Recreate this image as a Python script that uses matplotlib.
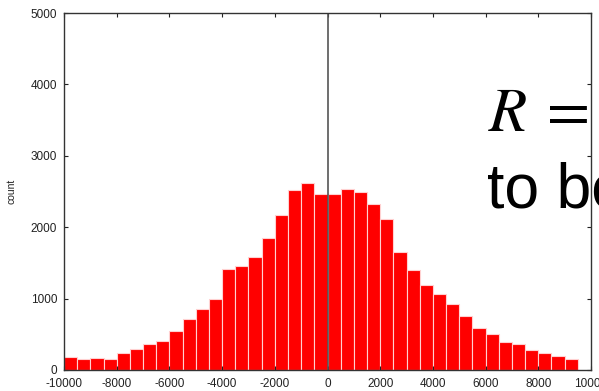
import numpy as np
import matplotlib
matplotlib.use("Agg")
import matplotlib.pyplot as plt

# =====================================================
# data: histogram counts, bin width 500, from -10000 to 9500
# =====================================================
bin_left = np.arange(-10000, 9500, 500)
counts = [178, 158, 168, 154, 238, 290, 360, 410, 550, 710,
          850, 990, 1414, 1461, 1578, 1844, 2166, 2525, 2623, 2460,
          2465, 2531, 2497, 2325, 2115, 1653, 1400, 1195, 1064, 920,
          756, 592, 504, 397, 360, 285, 238, 192, 158]
xticks = list(range(-10000, 10001, 2000))
yticks = list(range(0, 5001, 1000))

plt.rcParams["font.family"] = ["Liberation Sans", "DejaVu Sans"]
plt.rcParams["axes.unicode_minus"] = False
plt.rcParams["mathtext.fontset"] = "stix"

W, H = 599, 391
fig = plt.figure(figsize=(W / 100, H / 100), dpi=100)
ax = fig.add_axes([64 / W, 1 - 370 / H, (591 - 64) / W, (370 - 13) / H])

ax.bar(bin_left, counts, width=500, align="edge", color="#ff0000",
       edgecolor=(1, 0.82, 0.82), linewidth=0.8)
ax.axvline(0, color="#555555", lw=1.2)

ax.set_xlim(-10000, 10000)
ax.set_ylim(0, 5000)
ax.set_xticks(xticks)
ax.set_xticklabels([str(v) for v in xticks])
ax.set_yticks(yticks)
ax.tick_params(direction="in", length=3, width=0.8, labelsize=8.5, colors="#222222",
               top=True, right=True, pad=5)
ax.tick_params(axis="x", pad=6)
for s in ax.spines.values():
    s.set_color("#333333")
    s.set_linewidth(1.0)

fig.text(11.5 / W, 1 - 191 / H, "count", rotation=90, fontsize=7.5,
         ha="center", va="center", color="#222222")

# slide text overlapping the chart
fig.text(488 / W, 1 - 131 / H, r"$R\:=$", fontsize=45, ha="left", va="baseline")
fig.text(487 / W, 1 - 207 / H, "to be", fontsize=45, ha="left", va="baseline")

fig.savefig("out.png", dpi=100)
